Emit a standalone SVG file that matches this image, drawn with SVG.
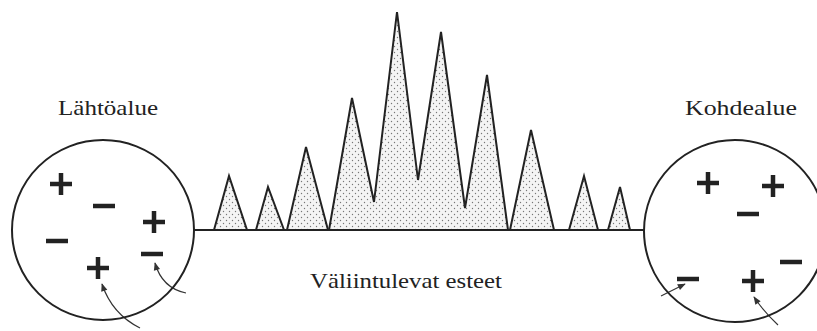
<svg xmlns="http://www.w3.org/2000/svg" width="817" height="331" viewBox="0 0 817 331">
<style>
.ln{fill:none;stroke:#222;stroke-width:2}
.pk{fill:url(#dots);stroke:#222;stroke-width:2;stroke-linejoin:miter}
.lbl{font-family:"Liberation Serif",serif;font-size:21px;fill:#222}
.sg{stroke:#222;stroke-width:4.5;fill:none}
.ar{fill:none;stroke:#333;stroke-width:1.2;marker-end:url(#ah)}
</style>
<defs>
<pattern id="dots" width="6" height="6" patternUnits="userSpaceOnUse">
<rect width="6" height="6" fill="#f4f4f4"/>
<circle cx="1.5" cy="1.5" r="0.7" fill="#777"/>
<circle cx="4.5" cy="4.5" r="0.7" fill="#777"/>
</pattern>
<marker id="ah" viewBox="0 0 10 10" refX="9" refY="5" markerWidth="9" markerHeight="8" orient="auto" markerUnits="userSpaceOnUse">
<path d="M0,1 L10,5 L0,9 Z" fill="#333"/>
</marker>
<g id="plus"><path class="sg" d="M-11,0 H11 M0,-11 V11"/></g>
<g id="minus"><path class="sg" d="M-11,0 H11"/></g>
</defs>
<g id="connectors">
<line class="ln" x1="194" y1="230" x2="644" y2="230"/>
<path class="ar" d="M140,328 Q112,314 102,284"/>
<path class="ar" d="M186,293 Q162,288 155,263"/>
<path class="ar" d="M661,296 Q673,290 685,284"/>
<path class="ar" d="M778,325 Q764,312 754,297"/>
</g>
<g id="obstacles">
<path class="pk" d="M214,230 L229,176 L247,230 Z"/>
<path class="pk" d="M256,230 L268,187 L284,230 Z"/>
<path class="pk" d="M287,230 L306,147 L328,230 Z"/>
<path class="pk" d="M329,230 L352,98 L374,202 L397,12 L418,180 L441,32 L465,208 L487,75 L508,230 Z"/>
<path class="pk" d="M510,230 L531,130 L554,230 Z"/>
<path class="pk" d="M569,230 L584,176 L598,230 Z"/>
<path class="pk" d="M608,230 L620,187 L630,230 Z"/>
<text class="lbl" x="310" y="288" textLength="192" lengthAdjust="spacingAndGlyphs">Väliintulevat esteet</text>
</g>
<g id="source">
<ellipse class="ln" cx="103" cy="230" rx="91" ry="90" fill="#fff"/>
<text class="lbl" x="58" y="115" textLength="100" lengthAdjust="spacingAndGlyphs">Lähtöalue</text>
<use href="#plus" x="61" y="184"/>
<use href="#minus" x="104" y="206"/>
<use href="#plus" x="154" y="222"/>
<use href="#minus" x="57" y="241"/>
<use href="#minus" x="152" y="254"/>
<use href="#plus" x="98" y="268"/>
</g>
<g id="target">
<ellipse class="ln" cx="735" cy="231" rx="91" ry="91" fill="#fff"/>
<text class="lbl" x="685" y="115" textLength="112" lengthAdjust="spacingAndGlyphs">Kohdealue</text>
<use href="#plus" x="708" y="183"/>
<use href="#plus" x="773" y="186"/>
<use href="#minus" x="748" y="214"/>
<use href="#minus" x="791" y="262"/>
<use href="#minus" x="688" y="279"/>
<use href="#plus" x="753" y="281"/>
</g>
</svg>
